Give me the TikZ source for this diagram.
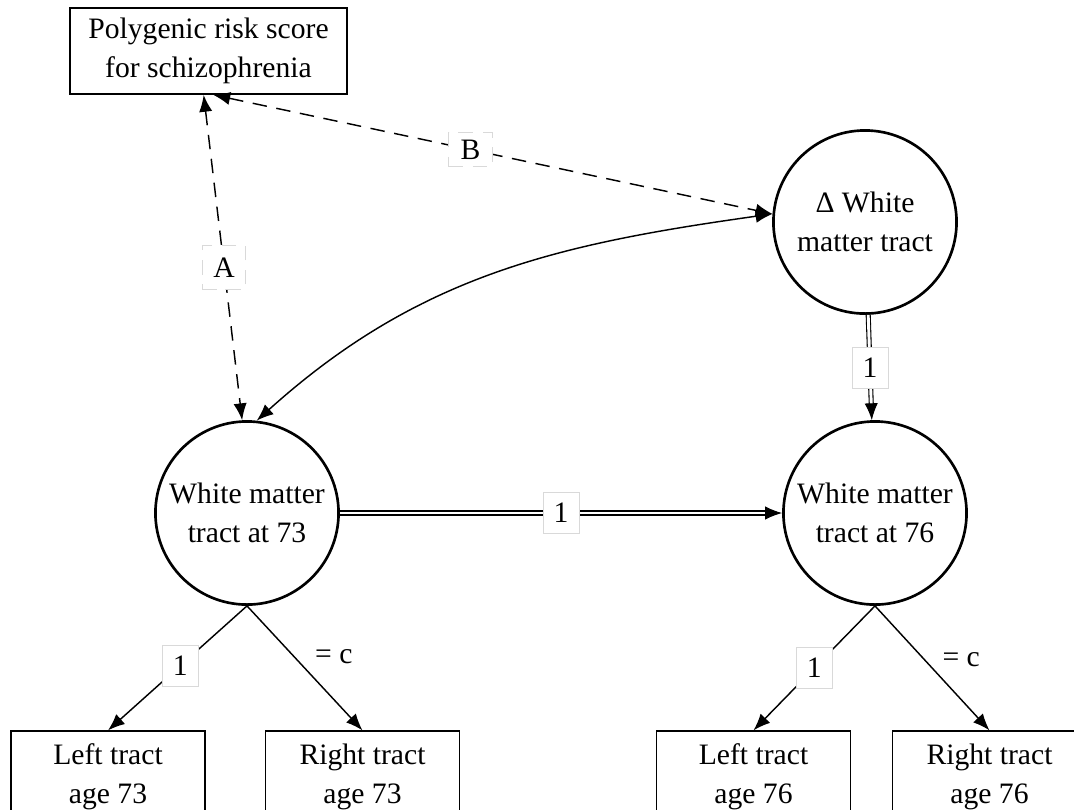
\documentclass[tikz,border=0pt]{standalone}
\usepackage{fontspec}
\setmainfont{Liberation Serif}
\usetikzlibrary{arrows.meta}

\begin{document}
\begin{tikzpicture}[x=0.415pt, y=-0.415pt,
    font=\fontsize{12.3}{16}\selectfont,
    var/.style={draw, line width=0.7pt, minimum width=80.5pt, minimum height=38pt, align=center, inner sep=2pt},
    latent/.style={draw, circle, line width=1.1pt, minimum size=76pt, align=center, inner sep=0pt},
    path/.style={line width=0.6pt, -{Latex[length=7pt,width=5.5pt]}},
    cov/.style={line width=0.6pt, {Latex[length=7pt,width=5.5pt]}-{Latex[length=7pt,width=5.5pt]}},
    fixed/.style={double, double distance=1.2pt, line width=0.45pt, -{Latex[length=7pt,width=5.5pt]}},
    lbl/.style={fill=white, draw=black!15, line width=0.3pt, minimum width=15pt, minimum height=17pt, inner sep=2pt}]
  \useasboundingbox (0,0) rectangle (1074,809);
  \clip (0,0) rectangle (1074,809);

  % variables
  \node[var, minimum width=115pt, minimum height=35.7pt] (prs) at (208.5,51) {Polygenic risk score\\for schizophrenia};
  \node[latent] (delta) at (865,222) {Δ White\\matter tract};
  \node[latent] (w73) at (247,513) {White matter\\tract at 73};
  \node[latent] (w76) at (875,513) {White matter\\tract at 76};
  \node[var] (l73) at (108,777) {Left tract\\age 73};
  \node[var] (r73) at (362.5,777) {Right tract\\age 73};
  \node[var] (l76) at (753.5,777) {Left tract\\age 76};
  \node[var] (r76) at (989.5,777) {Right tract\\age 76};

  % covariances with the risk score
  \draw[cov, dash pattern=on 6pt off 4pt] ([xshift=-2pt]prs.south) -- (w73.93) node[lbl, pos=0.53, minimum width=18pt, minimum height=18pt]{A};
  \draw[cov, dash pattern=on 6pt off 4pt] ([xshift=2pt]prs.south) -- (delta.175) node[lbl, pos=0.46, minimum width=18pt, minimum height=14pt]{B};
  \draw[cov] (w73.84) to[out=42, in=188] (delta.175);

  % change model
  \draw[fixed] (delta) -- (w76) node[lbl, midway]{1};
  \draw[fixed] (w73) -- (w76) node[lbl, midway]{1};

  % loadings
  \draw[path] (w73.south) -- (l73.north) node[lbl, pos=0.48]{1};
  \draw[path] (w73.south) -- (r73.north) node[pos=0.41, right=5pt]{= c};
  \draw[path] (w76.south) -- (l76.north) node[lbl, pos=0.5]{1};
  \draw[path] (w76.south) -- (r76.north) node[pos=0.43, right=4pt]{= c};
\end{tikzpicture}
\end{document}
